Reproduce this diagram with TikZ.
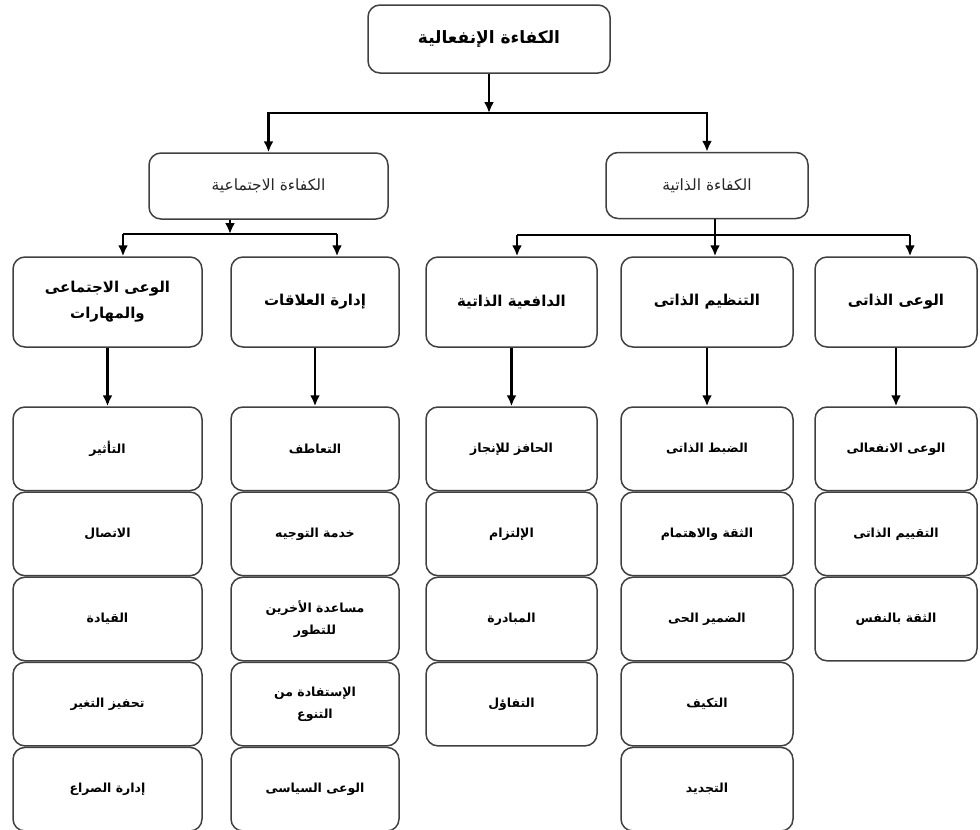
\documentclass[tikz,border=0pt]{standalone}
\usepackage{fontspec}
\newfontfamily\arabicfont[Script=Arabic]{DejaVu Sans}
\TeXXeTstate=1
\usetikzlibrary{positioning,arrows.meta}
\newcommand{\artext}[1]{\beginR#1\endR}

\begin{document}
\begin{tikzpicture}[>={Latex[length=11pt,width=10pt]}, x=1pt, y=-1pt]

    %
    % Styles for boxes, and connectors
    %
    \tikzstyle{box} = [draw=black!75, line width=1.5pt, rectangle, rounded corners=12pt, align=center,
                       fill=white, inner sep=2pt, text=black,
                       font={\arabicfont\bfseries\fontsize{12.5}{22}\selectfont}]
    \tikzstyle{root} = [box, minimum width=242pt, minimum height=68pt,
                        font={\arabicfont\bfseries\fontsize{17}{20}\selectfont}]
    \tikzstyle{branch} = [box, minimum height=66pt,
                          font={\arabicfont\fontsize{15.5}{20}\selectfont}, text=black!85]
    \tikzstyle{head} = [box, minimum height=90pt,
                        font={\arabicfont\bfseries\fontsize{15}{26}\selectfont}]
    \tikzstyle{item} = [box, minimum height=83.6pt]
    \tikzstyle{colSocial} = [minimum width=189pt]
    \tikzstyle{colRelation} = [minimum width=168pt]
    \tikzstyle{colMotive} = [minimum width=171pt]
    \tikzstyle{colRegulate} = [minimum width=172pt]
    \tikzstyle{colAware} = [minimum width=162pt]
    \tikzstyle{link} = [black, line width=2.3pt];
    \tikzstyle{dataFlow} = [link, ->];

    \useasboundingbox (0,0) rectangle (980,830);

    %
    % Position the top levels
    %
    \node[root, name=top] at (489,39) {\artext{الكفاءة الإنفعالية}};
    \node[branch, name=social, minimum width=239pt] at (268.5,186) {\artext{الكفاءة الاجتماعية}};
    \node[branch, name=personal, minimum width=202pt] at (707,185.5) {\artext{الكفاءة الذاتية}};

    \node[head, colSocial, name=socialAware] at (107.5,302) {\artext{الوعى الاجتماعى}\\\artext{والمهارات}};
    \node[head, colRelation, name=relations] at (315,302) {\artext{إدارة العلاقات}};
    \node[head, colMotive, name=motivation] at (511.5,302) {\artext{الدافعية الذاتية}};
    \node[head, colRegulate, name=regulation] at (707,302) {\artext{التنظيم الذاتى}};
    \node[head, colAware, name=selfAware] at (896,302) {\artext{الوعى الذاتى}};

    %
    % Stack the items under each head
    %
    \node[item, colSocial, name=influence] at (107.5,448.8) {\artext{التأثير}};
    \node[item, colSocial, name=communication, below=0pt of influence] {\artext{الاتصال}};
    \node[item, colSocial, name=leadership, below=0pt of communication] {\artext{القيادة}};
    \node[item, colSocial, name=change, below=0pt of leadership] {\artext{تحفيز التغير}};
    \node[item, colSocial, name=conflict, below=0pt of change] {\artext{إدارة الصراع}};

    \node[item, colRelation, name=empathy] at (315,448.8) {\artext{التعاطف}};
    \node[item, colRelation, name=service, below=0pt of empathy] {\artext{خدمة التوجيه}};
    \node[item, colRelation, name=develop, below=0pt of service] {\artext{مساعدة الأخرين}\\\artext{للتطور}};
    \node[item, colRelation, name=diversity, below=0pt of develop] {\artext{الإستفادة من}\\\artext{التنوع}};
    \node[item, colRelation, name=political, below=0pt of diversity] {\artext{الوعى السياسى}};

    \node[item, colMotive, name=achieve] at (511.5,448.8) {\artext{الحافز للإنجاز}};
    \node[item, colMotive, name=commit, below=0pt of achieve] {\artext{الإلتزام}};
    \node[item, colMotive, name=initiative, below=0pt of commit] {\artext{المبادرة}};
    \node[item, colMotive, name=optimism, below=0pt of initiative] {\artext{التفاؤل}};

    \node[item, colRegulate, name=control] at (707,448.8) {\artext{الضبط الذاتى}};
    \node[item, colRegulate, name=trust, below=0pt of control] {\artext{الثقة والاهتمام}};
    \node[item, colRegulate, name=conscience, below=0pt of trust] {\artext{الضمير الحى}};
    \node[item, colRegulate, name=adapt, below=0pt of conscience] {\artext{التكيف}};
    \node[item, colRegulate, name=renew, below=0pt of adapt] {\artext{التجديد}};

    \node[item, colAware, name=emotional] at (896,448.8) {\artext{الوعى الانفعالى}};
    \node[item, colAware, name=assess, below=0pt of emotional] {\artext{التقييم الذاتى}};
    \node[item, colAware, name=confidence, below=0pt of assess] {\artext{الثقة بالنفس}};

    %
    % Split points of the tree
    %
    \coordinate (topSplit) at (489,113);
    \coordinate (socialSplit) at (230,234);
    \coordinate (socialLeft) at (123,234);
    \coordinate (socialRight) at (337,234);
    \coordinate (personalSplit) at (715,235);
    \coordinate (personalLeft) at (517,235);
    \coordinate (personalRight) at (910,235);

    %
    % Connect boxes via edges
    %
    \draw[dataFlow] (top) -- (topSplit);
    \draw[dataFlow] (topSplit) -| (social);
    \draw[dataFlow] (topSplit) -| (personal);

    \draw[dataFlow] (social.south -| socialSplit) -- (socialSplit);
    \draw[link] (socialLeft) -- (socialRight);
    \draw[dataFlow] (socialLeft) -- (socialAware.north -| socialLeft);
    \draw[dataFlow] (socialRight) -- (relations.north -| socialRight);

    \draw[dataFlow] (personal.south -| personalSplit) -- (regulation.north -| personalSplit);
    \draw[link] (personalLeft) -- (personalRight);
    \draw[dataFlow] (personalLeft) -- (motivation.north -| personalLeft);
    \draw[dataFlow] (personalRight) -- (selfAware.north -| personalRight);

    \draw[dataFlow] (socialAware) -- (influence);
    \draw[dataFlow] (relations) -- (empathy);
    \draw[dataFlow] (motivation) -- (achieve);
    \draw[dataFlow] (regulation) -- (control);
    \draw[dataFlow] (selfAware) -- (emotional);
  \end{tikzpicture}
\end{document}
